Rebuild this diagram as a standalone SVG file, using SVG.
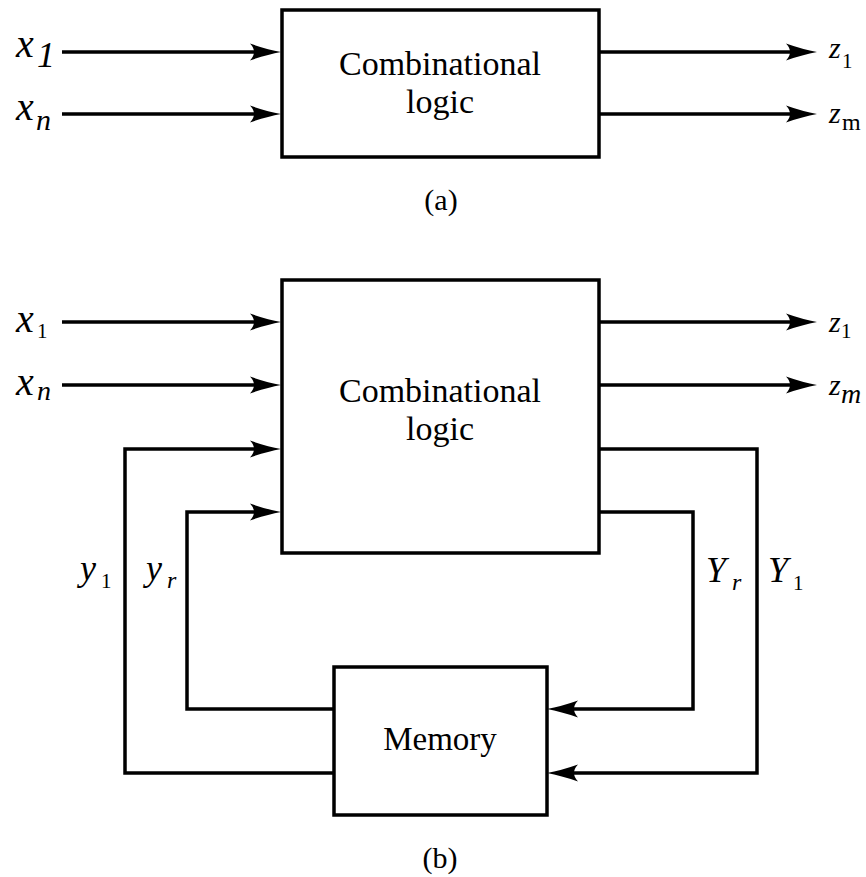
<svg xmlns="http://www.w3.org/2000/svg" width="866" height="877" viewBox="0 0 866 877">
<style>
.box{fill:#fff;stroke:#000;stroke-width:3.5}
.ln{fill:none;stroke:#000;stroke-width:3.5}
text{font-family:'Liberation Serif','Times New Roman','DejaVu Serif',serif;fill:#000}
.it{font-style:italic}
</style>
<defs>
<marker id="ah" viewBox="-32 -9 33 18" refX="-10" refY="0" markerWidth="33" markerHeight="18" markerUnits="userSpaceOnUse" orient="auto">
<path d="M0,0 Q-14,-2.5 -31,-8.5 Q-23,0 -31,8.5 Q-14,2.5 0,0 Z" fill="#000"/>
</marker>
</defs>
<rect width="866" height="877" fill="#fff"/>

<g id="connectors">
<line class="ln" x1="62" y1="52" x2="271" y2="52" marker-end="url(#ah)"/>
<line class="ln" x1="62" y1="114" x2="271" y2="114" marker-end="url(#ah)"/>
<line class="ln" x1="599" y1="52" x2="807" y2="52" marker-end="url(#ah)"/>
<line class="ln" x1="599" y1="114" x2="807" y2="114" marker-end="url(#ah)"/>
<line class="ln" x1="62" y1="322" x2="271" y2="322" marker-end="url(#ah)"/>
<line class="ln" x1="62" y1="385" x2="271" y2="385" marker-end="url(#ah)"/>
<line class="ln" x1="599" y1="322" x2="807" y2="322" marker-end="url(#ah)"/>
<line class="ln" x1="599" y1="385" x2="807" y2="385" marker-end="url(#ah)"/>
<polyline class="ln" points="334,773 125,773 125,449 271,449" marker-end="url(#ah)"/>
<polyline class="ln" points="334,709 187,709 187,512 271,512" marker-end="url(#ah)"/>
<polyline class="ln" points="599,512 693,512 693,709 557,709" marker-end="url(#ah)"/>
<polyline class="ln" points="599,449 757,449 757,773 557,773" marker-end="url(#ah)"/>
</g>

<g id="comb-a">
<rect class="box" x="282" y="10" width="317" height="147"/>
<text x="440" y="75" font-size="34" text-anchor="middle">Combinational</text>
<text x="440" y="113" font-size="34" text-anchor="middle">logic</text>
</g>

<g id="comb-b">
<rect class="box" x="282" y="280" width="317" height="273"/>
<text x="440" y="402" font-size="34" text-anchor="middle">Combinational</text>
<text x="440" y="440" font-size="34" text-anchor="middle">logic</text>
</g>

<g id="memory">
<rect class="box" x="334" y="667" width="213" height="148"/>
<text x="440" y="750" font-size="33" text-anchor="middle">Memory</text>
</g>

<g id="labels">
<text class="it" x="16" y="57" font-size="40">x</text>
<text class="it" x="37" y="67" font-size="36">1</text>
<text class="it" x="16" y="120" font-size="40">x</text>
<text class="it" x="36" y="130" font-size="30">n</text>
<text class="it" x="829" y="58" font-size="30">z</text>
<text x="842" y="68" font-size="21">1</text>
<text class="it" x="829" y="123" font-size="30">z</text>
<text x="842" y="130" font-size="24">m</text>
<text x="441" y="210" font-size="30" text-anchor="middle">(a)</text>

<text class="it" x="16" y="332" font-size="40">x</text>
<text x="37" y="338" font-size="21">1</text>
<text class="it" x="16" y="395" font-size="40">x</text>
<text class="it" x="37" y="400" font-size="28">n</text>
<text class="it" x="829" y="332" font-size="30">z</text>
<text x="841" y="338" font-size="21">1</text>
<text class="it" x="829" y="395" font-size="30">z</text>
<text class="it" x="841" y="403" font-size="28">m</text>

<text class="it" x="80" y="580" font-size="36">y</text>
<text x="101" y="588" font-size="21">1</text>
<text class="it" x="146" y="580" font-size="36">y</text>
<text class="it" x="167" y="588" font-size="24">r</text>
<text class="it" x="706" y="582" font-size="36">Y</text>
<text class="it" x="732" y="590" font-size="24">r</text>
<text class="it" x="768" y="582" font-size="36">Y</text>
<text x="793" y="590" font-size="21">1</text>
<text x="440" y="868" font-size="30" text-anchor="middle">(b)</text>
</g>
</svg>
